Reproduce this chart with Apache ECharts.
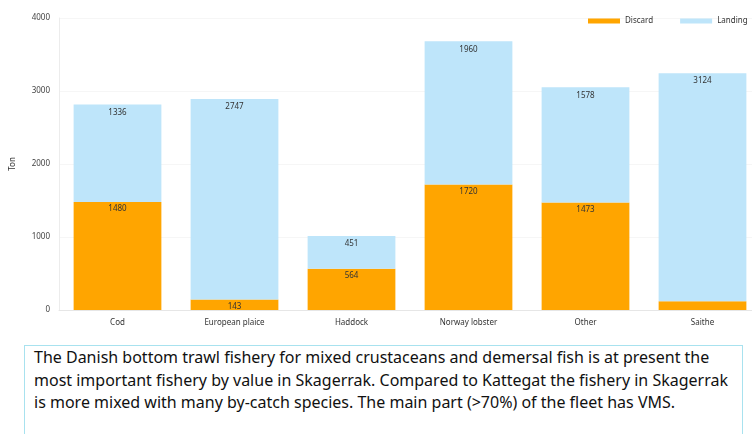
<!DOCTYPE html>
<html>
<head>
<meta charset="utf-8">
<script src="https://cdn.jsdelivr.net/npm/echarts@6/dist/echarts.min.js"></script>
<style>
  html, body { margin: 0; padding: 0; background: #fff; overflow: hidden; width: 752px; height: 434px; }
  #wrap { position: absolute; left: 0; top: 0; width: 752px; height: 434px; overflow: hidden; }
  #chart { position: absolute; left: 0; top: 0; width: 762px; height: 340px; }
  #note {
    position: absolute; left: 24px; top: 345px; width: 719px; height: 100px;
    border: 1px solid #a8e2ef; box-sizing: border-box;
    padding: 0 0 0 9px; white-space: nowrap;
    font-family: "Noto Sans", sans-serif; font-size: 16px; line-height: 22.5px; color: #111;
  }
</style>
</head>
<body>
<div id="wrap">
<div id="chart"></div>
<div id="note">The Danish bottom trawl fishery for mixed crustaceans and demersal fish is at present the<br>most important fishery by value in Skagerrak. Compared to Kattegat the fishery in Skagerrak<br>is more mixed with many by-catch species. The main part (&gt;70%) of the fleet has VMS.</div>
</div>
<script>
const categories = ['Cod', 'European plaice', 'Haddock', 'Norway lobster', 'Other', 'Saithe'];
const discard = [1480, 143, 564, 1720, 1473, 120];
const landing = [1336, 2747, 451, 1960, 1578, 3124];
const discardLabels = ['1480', '143', '564', '1720', '1473', ''];
const landingLabels = ['1336', '2747', '451', '1960', '1578', '3124'];

const chart = echarts.init(document.getElementById('chart'));
chart.setOption({
  animation: false,
  textStyle: { fontFamily: 'Noto Sans, sans-serif' },
  legend: {
    orient: 'horizontal',
    left: 588, top: 17, width: 400, padding: 0,
    itemWidth: 32, itemHeight: 5, itemGap: 27,
    icon: 'rect',
    textStyle: { fontSize: 8, color: '#333' },
    data: ['Discard', 'Landing']
  },
  grid: { left: 59, top: 18, right: 1, height: 292 },
  xAxis: {
    type: 'category',
    data: categories,
    axisLine: { lineStyle: { color: '#e6e6e6' } },
    axisTick: { show: false },
    axisLabel: { fontSize: 8, color: '#333', margin: 9 }
  },
  yAxis: {
    type: 'value',
    min: 0, max: 4000, interval: 1000,
    name: 'Ton', nameLocation: 'middle', nameGap: 42,
    nameTextStyle: { fontSize: 8, color: '#333' },
    axisLine: { show: true, lineStyle: { color: '#ececec' } },
    axisTick: { show: false },
    axisLabel: { fontSize: 8, color: '#444', margin: 9, formatter: v => String(v) },
    splitLine: { lineStyle: { color: '#f6f6f6' } }
  },
  series: [
    {
      name: 'Discard', type: 'bar', stack: 'total',
      data: discard, barCategoryGap: '25%',
      itemStyle: { color: '#FFA500' },
      label: {
        show: true, position: 'insideTop', distance: 3,
        fontSize: 8, color: '#333',
        formatter: p => discardLabels[p.dataIndex]
      }
    },
    {
      name: 'Landing', type: 'bar', stack: 'total',
      data: landing, barCategoryGap: '25%',
      itemStyle: { color: '#BEE5FA' },
      label: {
        show: true, position: 'insideTop', distance: 4,
        fontSize: 8, color: '#333',
        formatter: p => landingLabels[p.dataIndex]
      }
    }
  ]
});
</script>
</body>
</html>
